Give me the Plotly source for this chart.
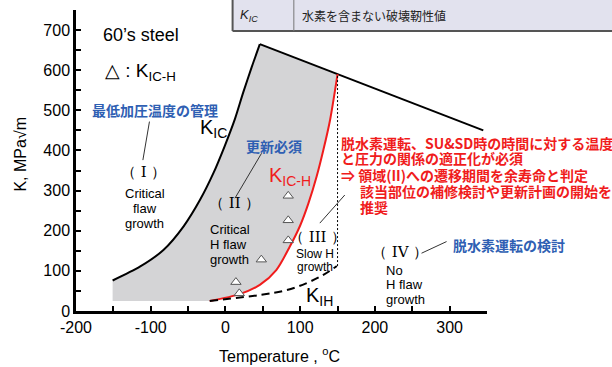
import plotly.graph_objects as go

# K_IC : fracture toughness without hydrogen (rising branch up to the peak, then a straight fall)
kic_temp = [-151, -114, -83, -56, -34, -16, -1, 12.6, 23.7, 35, 46, 150, 345]
kic_val = [76, 111, 152, 211, 277, 344, 411, 478, 544, 607, 665, 590, 450]
KIC_PEAK = 10      # index of the peak point
KIC_AT_150 = 11    # index where the K_IC-H curve meets K_IC

# K_IC-H : fracture toughness with hydrogen (red)
kich_temp = [-21, 19, 46, 68, 86, 100, 111, 122, 131, 140, 150]
kich_val = [25, 42, 65, 102, 160, 213, 268, 335, 401, 476, 590]

# K_IH : threshold for hydrogen-assisted crack growth (dashed)
kih_temp = [-21, 46, 82, 108, 131, 149]
kih_val = [25, 40, 52, 69, 90, 112]

# measured K_IC-H points (triangles)
tri_temp = [84, 84, 84, 48, 14, 18.5]
tri_val = [287, 226, 176, 128, 72, 44]

# lower edge of the shaded region
floor_val = 25

x_ticks = [-200, -100, 0, 100, 200, 300]
x_ticklabels = ["-200", "-100", "0", "100", "200", "300"]
y_ticks = [0, 100, 200, 300, 400, 500, 600, 700]

SANS = "Liberation Sans, Arial, sans-serif"
CJK = "Noto Sans CJK JP"
SERIF = "DejaVu Serif, Liberation Serif, serif"
BLUE = "#2f5fb3"
RED = "#f01c1c"

fig = go.Figure()

# shaded region between K_IC and K_IC-H
fill_x = kic_temp[:KIC_AT_150 + 1] + kich_temp[::-1] + [kic_temp[0]]
fill_y = kic_val[:KIC_AT_150 + 1] + kich_val[::-1] + [floor_val]
fig.add_trace(go.Scatter(x=fill_x, y=fill_y, mode="lines", fill="toself",
                         fillcolor="#d4d4d6", line=dict(width=0), hoverinfo="skip"))

# K_IC curve
fig.add_trace(go.Scatter(x=kic_temp[:KIC_PEAK + 1], y=kic_val[:KIC_PEAK + 1], mode="lines",
                         line=dict(color="black", width=2, shape="spline", smoothing=0.8)))
fig.add_trace(go.Scatter(x=kic_temp[KIC_PEAK:], y=kic_val[KIC_PEAK:], mode="lines",
                         line=dict(color="black", width=2)))

# K_IC-H curve
fig.add_trace(go.Scatter(x=kich_temp, y=kich_val, mode="lines",
                         line=dict(color=RED, width=2, shape="spline", smoothing=0.8)))

# K_IH curve
fig.add_trace(go.Scatter(x=kih_temp, y=kih_val, mode="lines",
                         line=dict(color="black", width=2, dash="8px,5px", shape="spline")))

# boundary of region III at 150 C
fig.add_trace(go.Scatter(x=[kih_temp[-1] + 1, kich_temp[-1]], y=[kih_val[-1], kich_val[-1]],
                         mode="lines", line=dict(color="black", width=1, dash="2px,2px")))

# measured points
fig.add_trace(go.Scatter(x=tri_temp, y=tri_val, mode="markers",
                         marker=dict(symbol="triangle-up", size=9, color="white",
                                     line=dict(color="#555555", width=1))))

ann = []


def note(x, y, text, size, color="black", family=SANS, xanchor="left", yanchor="middle",
         xref="x", yref="y", textangle=0):
    ann.append(dict(x=x, y=y, text=text, showarrow=False, xref=xref, yref=yref,
                    xanchor=xanchor, yanchor=yanchor, textangle=textangle,
                    font=dict(size=size, color=color, family=family)))


note(-167, 688, "60’s steel", 18)
note(-164, 596, "△ : K<sub>IC-H</sub>", 19)

note(-181, 501, "<b>最低加圧温度の管理</b>", 14, BLUE, CJK)
note(-110, 347, "（ I ）", 15, family=SERIF, xanchor="center")
for yy, t in zip([293, 256, 219], ["Critical", "flaw", "growth"]):
    note(-108, yy, t, 13, xanchor="center")

note(-37, 455, "K<sub>IC</sub>", 20)

note(24.7, 411, "<b>更新必須</b>", 14, BLUE, CJK)
note(12.7, 268, "（ II ）", 15, family=SERIF, xanchor="center")
for yy, t in zip([204, 166, 129], ["Critical", "H flaw", "growth"]):
    note(-23, yy, t, 13)

note(55, 334, "K<sub>IC-H</sub>", 20, RED)

note(123.8, 184, "（ III ）", 15, family=SERIF, xanchor="center")
for yy, t in zip([142, 109], ["Slow H", "growth"]):
    note(120, yy, t, 12, xanchor="center")

note(105, 36, "K<sub>IH</sub>", 20)

note(233.4, 148, "（ IV ）", 15, family=SERIF, xanchor="center")
for yy, t in zip([102, 65, 29], ["No", "H flaw", "growth"]):
    note(212.5, yy, t, 13)

note(301.3, 165, "<b>脱水素運転の検討</b>", 14, BLUE, CJK)

red_lines = [
    (152.5, 419, "脱水素運転、SU&SD時の時間に対する温度"),
    (152.5, 380, "と圧力の関係の適正化が必須"),
    (152.5, 340, "⇒ 領域(II)への遷移期間を余寿命と判定"),
    (176.9, 299, "該当部位の補修検討や更新計画の開始を"),
    (176.9, 259, "推奨"),
]
for xx, yy, t in red_lines:
    note(xx, yy, "<b>" + t + "</b>", 14, RED, CJK)

# axis titles
note(-0.136, 0.52, "K, MPa√m", 16, xref="paper", yref="paper", xanchor="center", textangle=-90)
note(0.496, -0.146, "Temperature , <sup>o</sup>C", 16, xref="paper", yref="paper", xanchor="center")

# header strip of the glossary table
note(0.394, 0.983, "<i>K<sub>IC</sub></i>", 13, "#222222", xref="paper", yref="paper")
note(0.545, 0.983, "水素を含まない破壊靭性値", 12, "#222222", CJK, xref="paper", yref="paper")

shapes = [
    dict(type="rect", xref="paper", yref="paper", x0=0.381, x1=1.4, y0=0.93, y1=1.06,
         fillcolor="#e2e2ee", line=dict(width=0), layer="below"),
    dict(type="line", xref="paper", yref="paper", x0=0.381, x1=0.381, y0=0.93, y1=1.06,
         line=dict(color="#555555", width=2)),
    dict(type="line", xref="paper", yref="paper", x0=0.381, x1=1.4, y0=0.93, y1=0.93,
         line=dict(color="#555555", width=2)),
    dict(type="line", xref="paper", yref="paper", x0=0.530, x1=0.530, y0=0.93, y1=1.06,
         line=dict(color="#777777", width=1)),
    # leader lines from the notes to the regions
    dict(type="line", xref="x", yref="y", x0=-101.7, y0=472, x1=-110.5, y1=376,
         line=dict(color="#333333", width=1)),
    dict(type="line", xref="x", yref="y", x0=48.3, y0=393, x1=12.7, y1=281,
         line=dict(color="#333333", width=1)),
    dict(type="line", xref="x", yref="y", x0=126.3, y0=219, x1=159.7, y1=289,
         line=dict(color="#333333", width=1)),
    dict(type="line", xref="x", yref="y", x0=262.4, y0=144, x1=295.9, y1=173,
         line=dict(color="#333333", width=1)),
]

axis_common = dict(showgrid=False, zeroline=False, showline=True, linecolor="black",
                   linewidth=2.5, ticks="inside", ticklen=5, tickwidth=1.5, tickcolor="black",
                   tickfont=dict(size=16, family=SANS, color="black"))

fig.update_layout(
    width=612, height=367,
    margin=dict(l=76, r=125, t=10, b=56),
    paper_bgcolor="white", plot_bgcolor="white",
    showlegend=False,
    annotations=ann, shapes=shapes,
    xaxis=dict(range=[-200, 350], tickvals=x_ticks, ticktext=x_ticklabels,
               minor=dict(dtick=50, tick0=0, ticks="inside", ticklen=5, tickwidth=1.5,
                          tickcolor="black"),
               **axis_common),
    yaxis=dict(range=[0, 750], tickvals=y_ticks,
               minor=dict(dtick=50, tick0=0, ticks="inside", ticklen=5, tickwidth=1.5,
                          tickcolor="black"),
               **axis_common),
)

fig.write_html("out.html")
